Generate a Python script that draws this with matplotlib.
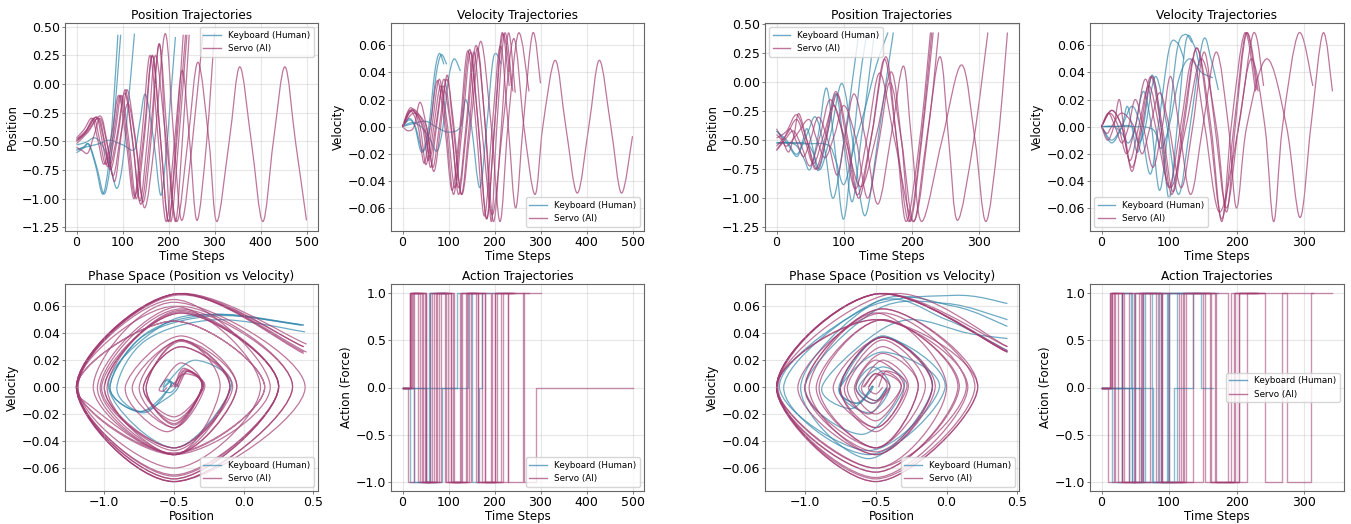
"""
Mountain car trajectories: keyboard (human) vs servo (AI), two runs side by side
"""

import matplotlib
matplotlib.use('Agg')
import numpy as np
import matplotlib.pyplot as plt
from matplotlib.path import Path
from matplotlib.patches import PathPatch
from matplotlib.lines import Line2D

plt.rcParams['font.size'] = 8.5
plt.rcParams['axes.edgecolor'] = '#666666'
plt.rcParams['axes.linewidth'] = 0.8
plt.rcParams['xtick.color'] = '#666666'
plt.rcParams['ytick.color'] = '#666666'
plt.rcParams['xtick.labelcolor'] = 'black'
plt.rcParams['ytick.labelcolor'] = 'black'
plt.rcParams['xtick.labelsize'] = 9
plt.rcParams['ytick.labelsize'] = 9

KB_COLOR = '#2E86AB'
SV_COLOR = '#A23B72'

# ---------------- run 1 (left) ----------------
# keyboard (human): time step, position, velocity at turning / crossing points
left_kb_t = [
    [0, 15, 27, 42, 57, 70, 80, 90],
    [0, 15, 28, 45, 60, 73, 84, 96],
    [0, 20, 40, 58, 75, 88, 100, 112, 126],
    [0, 20, 50, 72, 100, 126, 137, 150, 168, 183, 195, 203, 215],
]
left_kb_pos = [
    [-0.58, -0.55, -0.53, -0.72, -0.96, -0.7, -0.2, 0.43],
    [-0.6, -0.56, -0.53, -0.74, -0.96, -0.72, -0.2, 0.43],
    [-0.53, -0.51, -0.47, -0.55, -0.75, -0.91, -0.7, -0.2, 0.44],
    [-0.57, -0.55, -0.52, -0.49, -0.53, -0.57, -0.35, -0.09, -0.5, -0.97, -0.6, -0.2, 0.41],
]
left_kb_vel = [
    [0, 0.006, 0, -0.019, 0, 0.04, 0.054, 0.046],
    [0, 0.005, 0, -0.018, 0, 0.038, 0.053, 0.046],
    [0, 0.003, 0, -0.008, -0.018, 0, 0.035, 0.05, 0.041],
    [0, 0.002, 0.004, 0, -0.004, 0, 0.02, 0, -0.045, 0, 0.045, 0.054, 0.046],
]
left_kb_act_t = [
    [0, 16, 57, 90],
    [0, 26, 60, 96],
    [0, 52, 85, 118, 126],
    [0, 143, 150, 166, 172, 215],
]
left_kb_act = [
    [0, -1, 1, 1],
    [0, -1, 1, 1],
    [0, -1, 0, 1, 1],
    [0, 1, -1, 0, 1, 1],
]

# servo (AI)
left_sv_t = [
    [0, 22, 45, 60, 72, 88, 105, 122, 138, 155, 172, 195, 218, 242, 264, 288, 305, 332, 355, 380, 405, 428, 453, 476, 500],
    [0, 20, 43, 56, 68, 83, 98, 114, 130, 148, 165, 183, 200, 218, 237],
    [0, 22, 48, 61, 74, 90, 106, 122, 140, 160, 180, 193, 205, 222, 240],
    [0, 12, 25, 38, 52, 68, 83, 97, 110, 129, 148, 170, 193, 212, 229, 252, 275],
    [0, 16, 34, 47, 60, 76, 92, 108, 125, 142, 160, 178, 195, 213, 230, 246, 262, 283, 300],
    [0, 25, 52, 66, 80, 96, 112, 128, 145, 163, 180, 198, 215, 230, 245],
    [0, 18, 38, 51, 64, 80, 95, 111, 127, 146, 165, 183, 200, 216, 232],
]
left_sv_pos = [
    [-0.49, -0.40, -0.29, -0.5, -0.72, -0.45, -0.08, -0.5, -1.02, -0.45, 0.25, -0.5, -1.2, -0.5, 0.19,
     -0.5, -1.2, -0.5, 0.15, -0.5, -1.2, -0.5, 0.15, -0.5, -1.19],
    [-0.48, -0.42, -0.29, -0.5, -0.72, -0.45, -0.1, -0.5, -1.0, -0.45, 0.25, -0.5, -1.2, -0.5, 0.43],
    [-0.5, -0.42, -0.3, -0.5, -0.75, -0.45, -0.05, -0.5, -1.05, -0.45, 0.35, -0.5, -1.2, -0.5, 0.43],
    [-0.55, -0.58, -0.6, -0.45, -0.3, -0.55, -0.85, -0.45, -0.05, -0.5, -1.08, -0.5, 0.44, -0.5, -1.19, -0.5, 0.45],
    [-0.47, -0.4, -0.3, -0.5, -0.7, -0.45, -0.1, -0.5, -1.0, -0.45, 0.25, -0.5, -1.2, -0.5, 0.12, -0.5, -1.19, -0.5, 0.45],
    [-0.52, -0.42, -0.28, -0.5, -0.8, -0.45, -0.17, -0.5, -1.03, -0.45, 0.35, -0.5, -1.2, -0.5, 0.43],
    [-0.5, -0.43, -0.3, -0.5, -0.7, -0.45, -0.1, -0.5, -0.98, -0.45, 0.25, -0.5, -1.2, -0.5, 0.43],
]
left_sv_vel = [
    [0, 0.012, 0, -0.022, 0, 0.03, 0, -0.045, 0, 0.055, 0, -0.065, 0, 0.065, 0,
     -0.05, 0, 0.049, 0, -0.049, 0, 0.049, 0, -0.049, -0.007],
    [0, 0.012, 0, -0.025, 0, 0.03, 0, -0.045, 0, 0.055, 0, -0.068, 0, 0.068, 0.03],
    [0, 0.013, 0, -0.03, 0, 0.035, 0, -0.05, 0, 0.06, 0, -0.07, 0, 0.069, 0.026],
    [0, -0.003, 0, 0.018, 0, -0.033, 0, 0.038, 0, -0.05, 0, 0.063, 0, -0.07, 0, 0.069, 0.026],
    [0, 0.012, 0, -0.027, 0, 0.034, 0, -0.047, 0, 0.056, 0, -0.066, 0, 0.06, 0, -0.06, 0, 0.069, 0.032],
    [0, 0.01, 0, -0.03, 0, 0.035, 0, -0.05, 0, 0.058, 0, -0.07, 0, 0.069, 0.025],
    [0, 0.014, 0, -0.028, 0, 0.035, 0, -0.05, 0, 0.057, 0, -0.068, 0, 0.069, 0.03],
]
left_sv_act_t = [
    [0, 17, 45, 72, 105, 138, 172, 218, 264, 290, 500],
    [0, 18, 43, 68, 98, 130, 165, 200, 237],
    [0, 20, 48, 74, 106, 140, 180, 205, 240],
    [0, 12, 25, 52, 83, 110, 148, 193, 229, 275],
    [0, 16, 34, 60, 92, 125, 160, 195, 230, 262, 300],
    [0, 22, 52, 80, 112, 145, 180, 215, 245],
    [0, 17, 38, 64, 95, 127, 165, 200, 232],
]
left_sv_act = [
    [0, 1, -1, 1, -1, 1, -1, 1, -1, 0, 0],
    [0, 1, -1, 1, -1, 1, -1, 1, 1],
    [0, 1, -1, 1, -1, 1, -1, 1, 1],
    [0, -1, 1, -1, 1, -1, 1, -1, 1, 1],
    [0, 1, -1, 1, -1, 1, -1, 1, -1, 1, 1],
    [0, 1, -1, 1, -1, 1, -1, 1, 1],
    [0, 1, -1, 1, -1, 1, -1, 1, 1],
]

# ---------------- run 2 (right) ----------------
right_kb_t = [
    [0, 15, 30, 45, 58, 72, 84, 100, 112, 122],
    [0, 18, 30, 40, 50, 62, 74, 86, 99, 112, 124, 134],
    [0, 15, 30, 38, 45, 53, 62, 75, 88, 100, 112, 125, 137, 145],
    [0, 20, 45, 55, 65, 80, 97, 114, 131, 150, 162, 173],
    [0, 40, 76, 88, 100, 115, 130, 148, 165],
]
right_kb_pos = [
    [-0.42, -0.5, -0.62, -0.45, -0.3, -0.6, -1.0, -0.5, 0.0, 0.43],
    [-0.53, -0.52, -0.55, -0.65, -0.75, -0.45, -0.05, -0.55, -1.18, -0.6, 0.05, 0.43],
    [-0.42, -0.52, -0.64, -0.52, -0.4, -0.55, -0.76, -0.45, -0.1, -0.55, -1.03, -0.5, 0.05, 0.43],
    [-0.52, -0.52, -0.53, -0.62, -0.75, -0.45, -0.01, -0.55, -1.15, -0.5, 0.0, 0.43],
    [-0.52, -0.53, -0.54, -0.68, -0.88, -0.55, -0.25, 0.15, 0.43],
]
right_kb_vel = [
    [0, -0.01, 0, 0.015, 0, -0.035, 0, 0.057, 0.062, 0.05],
    [0, 0, -0.005, -0.012, 0, 0.026, 0, -0.047, 0, 0.057, 0.068, 0.062],
    [0, -0.012, 0, 0.015, 0, -0.019, 0, 0.038, 0, -0.053, 0, 0.063, 0.06, 0.045],
    [0, 0, 0, -0.012, 0, 0.037, 0, -0.05, 0, 0.063, 0.05, 0.027],
    [0, 0, -0.002, -0.016, 0, 0.036, 0.05, 0.04, 0.036],
]
right_kb_act_t = [
    [0, 30, 44, 58, 84, 122],
    [0, 40, 50, 74, 99, 134],
    [0, 15, 30, 45, 62, 88, 112, 145],
    [0, 45, 65, 97, 108, 135, 173],
    [0, 76, 100, 148, 165],
]
right_kb_act = [
    [0, 1, 0, -1, 1, 1],
    [0, -1, 1, -1, 1, 1],
    [0, -1, 1, -1, 1, -1, 1, 1],
    [0, -1, 1, -1, 0, 1, 1],
    [0, -1, 1, 0, 0],
]

right_sv_t = [
    [0, 9, 18, 26, 33, 45, 58, 73, 88, 104, 120, 141, 162, 178, 192, 212, 228],
    [0, 12, 25, 37, 50, 65, 80, 102, 125, 148, 170, 185, 198, 215, 232],
    [0, 15, 30, 42, 55, 70, 85, 100, 117, 135, 153, 175, 203, 225, 240],
    [0, 8, 15, 30, 48, 60, 72, 86, 100, 118, 135, 152, 168, 185, 203, 222, 242, 255, 268, 292, 313],
    [0, 10, 20, 30, 40, 50, 62, 76, 90, 102, 115, 132, 150, 170, 188, 200, 215, 245, 274, 294, 310, 328, 342],
    [0, 15, 30, 45, 60, 75, 90, 106, 122, 141, 160, 178, 196, 214, 230],
]
right_sv_pos = [
    [-0.4, -0.5, -0.6, -0.45, -0.27, -0.5, -0.75, -0.45, -0.08, -0.5, -0.97, -0.45, 0.22, -0.5, -1.2, -0.5, 0.43],
    [-0.59, -0.5, -0.42, -0.55, -0.72, -0.45, -0.15, -0.5, -0.9, -0.45, 0.09, -0.5, -1.2, -0.5, 0.43],
    [-0.55, -0.45, -0.32, -0.5, -0.7, -0.45, -0.2, -0.5, -0.92, -0.45, 0.08, -0.5, -1.2, -0.4, 0.43],
    [-0.45, -0.5, -0.55, -0.45, -0.32, -0.5, -0.65, -0.45, -0.2, -0.5, -1.0, -0.5, 0.0, -0.5, -1.2,
     -0.5, 0.22, -0.5, -1.19, -0.5, 0.43],
    [-0.58, -0.5, -0.4, -0.52, -0.64, -0.5, -0.3, -0.5, -0.8, -0.45, -0.1, -0.5, -1.05, -0.45, 0.14,
     -0.5, -1.2, -0.5, 0.15, -0.5, -1.2, -0.5, 0.43],
    [-0.48, -0.42, -0.28, -0.5, -0.75, -0.45, -0.1, -0.5, -1.0, -0.45, 0.2, -0.5, -1.2, -0.5, 0.43],
]
right_sv_vel = [
    [0, -0.01, 0, 0.02, 0, -0.033, 0, 0.037, 0, -0.05, 0, 0.058, 0, -0.07, 0, 0.069, 0.026],
    [0, 0.01, 0, -0.02, 0, 0.035, 0, -0.045, 0, 0.05, 0, -0.063, 0, 0.069, 0.026],
    [0, 0.012, 0, -0.025, 0, 0.03, 0, -0.045, 0, 0.05, 0, -0.063, 0, 0.069, 0.03],
    [0, -0.005, 0, 0.01, 0, -0.02, 0, 0.025, 0, -0.045, 0, 0.055, 0, -0.06, 0,
     0.05, 0, -0.07, 0, 0.069, 0.03],
    [0, 0.01, 0, -0.012, 0, 0.02, 0, -0.03, 0, 0.037, 0, -0.05, 0, 0.055, 0,
     -0.06, 0, 0.05, 0, -0.067, 0, 0.069, 0.026],
    [0, 0.012, 0, -0.03, 0, 0.037, 0, -0.048, 0, 0.058, 0, -0.068, 0, 0.069, 0.027],
]
right_sv_act_t = [
    [0, 10, 18, 33, 58, 88, 120, 162, 192, 228],
    [0, 13, 25, 50, 80, 125, 170, 198, 232],
    [0, 14, 30, 55, 85, 117, 153, 203, 240],
    [0, 15, 48, 72, 100, 135, 168, 203, 242, 268, 313],
    [0, 12, 20, 40, 62, 90, 115, 150, 188, 215, 274, 310, 342],
    [0, 15, 30, 60, 90, 122, 160, 196, 230],
]
right_sv_act = [
    [0, -1, 1, -1, 1, -1, 1, -1, 1, 1],
    [0, 1, -1, 1, -1, 1, -1, 1, 1],
    [0, 1, -1, 1, -1, 1, -1, 1, 1],
    [0, 1, -1, 1, -1, 1, -1, 1, -1, 1, 1],
    [0, 1, -1, 1, -1, 1, -1, 1, -1, 1, -1, 1, 1],
    [0, 1, -1, 1, -1, 1, -1, 1, 1],
]

KB_LABEL = 'Keyboard (Human)'
SV_LABEL = 'Servo (AI)'


def smooth_line(ax, x, y, color):
    # smooth (Catmull-Rom style) curve through the read points, drawn in data coords
    n = len(x)
    verts = [(x[0], y[0])]
    codes = [Path.MOVETO]
    for i in range(n - 1):
        xp, yp = (x[i - 1], y[i - 1]) if i > 0 else (x[i], y[i])
        xn, yn = (x[i + 2], y[i + 2]) if i + 2 < n else (x[i + 1], y[i + 1])
        c1 = (x[i] + (x[i + 1] - xp) / 6.0, y[i] + (y[i + 1] - yp) / 6.0)
        c2 = (x[i + 1] - (xn - x[i]) / 6.0, y[i + 1] - (yn - y[i]) / 6.0)
        verts += [c1, c2, (x[i + 1], y[i + 1])]
        codes += [Path.CURVE4] * 3
    ax.add_patch(PathPatch(Path(verts, codes), fill=False, edgecolor=color,
                           alpha=0.7, linewidth=0.9))
    ax.update_datalim(np.column_stack([x, y]))


def draw_run(axes, kb, sv, legend_locs):
    ax_pos, ax_vel, ax_phase, ax_act = axes
    for data, color in ((kb, KB_COLOR), (sv, SV_COLOR)):
        t_list, pos_list, vel_list, at_list, a_list = data
        for i in range(len(t_list)):
            smooth_line(ax_pos, t_list[i], pos_list[i], color)
            smooth_line(ax_vel, t_list[i], vel_list[i], color)
            smooth_line(ax_phase, pos_list[i], vel_list[i], color)
            ax_act.plot(at_list[i], a_list[i], color=color, alpha=0.55, linewidth=1.0,
                        drawstyle='steps-post')

    for ax in (ax_pos, ax_vel, ax_phase):
        ax.autoscale_view()

    ax_pos.set_title('Position Trajectories', fontsize=8.7, pad=3)
    ax_pos.set_xlabel('Time Steps', labelpad=0.5)
    ax_pos.set_ylabel('Position', labelpad=2)
    ax_vel.set_title('Velocity Trajectories', fontsize=8.7, pad=3)
    ax_vel.set_xlabel('Time Steps', labelpad=0.5)
    ax_vel.set_ylabel('Velocity', labelpad=2)
    ax_phase.set_title('Phase Space (Position vs Velocity)', fontsize=8.7, pad=3)
    ax_phase.set_xlabel('Position', labelpad=0.5)
    ax_phase.set_ylabel('Velocity', labelpad=2)
    ax_act.set_title('Action Trajectories', fontsize=8.7, pad=3)
    ax_act.set_xlabel('Time Steps', labelpad=0.5)
    ax_act.set_ylabel('Action (Force)', labelpad=2)

    handles = [Line2D([], [], color=KB_COLOR, alpha=0.7, linewidth=1),
               Line2D([], [], color=SV_COLOR, alpha=0.7, linewidth=1)]
    for ax, loc in zip(axes, legend_locs):
        ax.grid(True, alpha=0.3)
        ax.legend(handles, [KB_LABEL, SV_LABEL], loc=loc, fontsize=6.3)
        ax.tick_params(length=2, pad=1.5, width=0.6)


fig = plt.figure(figsize=(13.51, 5.24), dpi=100)

col_x = [65, 391, 765, 1090]
col_w = [253, 253, 254, 254]
row_top = [23, 284]
row_h = [208, 207]


def make_ax(col, row):
    W, H = 1351.0, 524.0
    return fig.add_axes([col_x[col] / W, 1 - (row_top[row] + row_h[row]) / H,
                         col_w[col] / W, row_h[row] / H])


left_axes = [make_ax(0, 0), make_ax(1, 0), make_ax(0, 1), make_ax(1, 1)]
right_axes = [make_ax(2, 0), make_ax(3, 0), make_ax(2, 1), make_ax(3, 1)]

draw_run(left_axes,
         (left_kb_t, left_kb_pos, left_kb_vel, left_kb_act_t, left_kb_act),
         (left_sv_t, left_sv_pos, left_sv_vel, left_sv_act_t, left_sv_act),
         ['upper right', 'lower right', 'lower right', 'lower right'])
draw_run(right_axes,
         (right_kb_t, right_kb_pos, right_kb_vel, right_kb_act_t, right_kb_act),
         (right_sv_t, right_sv_pos, right_sv_vel, right_sv_act_t, right_sv_act),
         ['upper left', 'lower left', 'lower right', 'center right'])

fig.savefig('out.png', dpi=100)
